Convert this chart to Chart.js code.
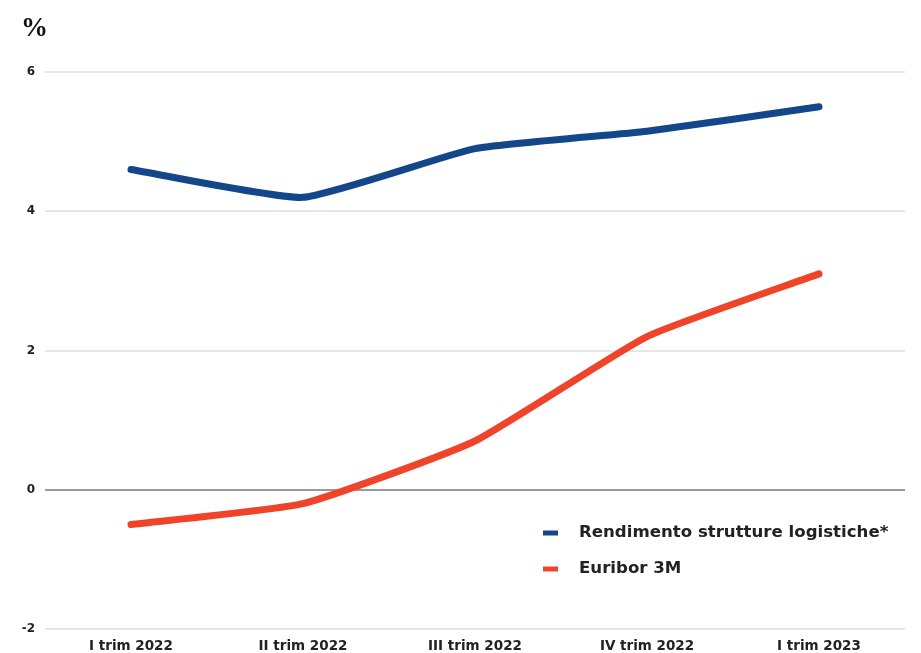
<!DOCTYPE html>
<html>
<head>
<meta charset="utf-8">
<script src="https://cdn.jsdelivr.net/npm/chart.js@4"></script>
<style>
    body { margin: 0; background: #fff; }
    #wrap { position: relative; width: 921px; height: 653px; }
    #unit { position: absolute; left: 21px; top: 12px; font: bold 27px "Liberation Serif", serif; color: #111; }
</style>
</head>
<body>
<div id="wrap">
    <canvas id="chart" width="921" height="653"></canvas>
    <div id="unit">%</div>
</div>
<script>
const labels = ['I trim 2022', 'II trim 2022', 'III trim 2022', 'IV trim 2022', 'I trim 2023'];
const rendimento = [4.6, 4.2, 4.9, 5.15, 5.5];
const euribor = [-0.5, -0.2, 0.7, 2.2, 3.1];
const yTicks = [-2, 0, 2, 4, 6];

const FONT = '"DejaVu Sans", sans-serif';

// legenda disegnata dentro l'area del grafico, in basso a destra
const insideLegend = {
    id: 'insideLegend',
    afterDraw(chart) {
        const ctx = chart.ctx;
        ctx.save();
        ctx.font = 'bold 16.6px ' + FONT;
        ctx.textBaseline = 'middle';
        chart.data.datasets.forEach((ds, i) => {
            const y = 533 + i * 36;
            ctx.strokeStyle = ds.borderColor;
            ctx.lineWidth = 5;
            ctx.beginPath();
            ctx.moveTo(543, y);
            ctx.lineTo(558, y);
            ctx.stroke();
            ctx.fillStyle = '#222';
            ctx.fillText(ds.label, 579, y);
        });
        ctx.restore();
    }
};

const ctx = document.getElementById('chart').getContext('2d');
new Chart(ctx, {
    type: 'line',
    data: {
        labels: labels,
        datasets: [
            {
                label: 'Rendimento strutture logistiche*',
                data: rendimento,
                borderColor: '#14468a',
                borderWidth: 7,
                pointRadius: 0,
                tension: 0.15,
                borderCapStyle: 'round'
            },
            {
                label: 'Euribor 3M',
                data: euribor,
                borderColor: '#f0442a',
                borderWidth: 7,
                pointRadius: 0,
                tension: 0.15,
                borderCapStyle: 'round'
            }
        ]
    },
    options: {
        responsive: false,
        animation: false,
        layout: { padding: { top: 72, right: 16, left: 0, bottom: 0 } },
        plugins: {
            legend: { display: false },
            tooltip: { enabled: false }
        },
        scales: {
            x: {
                offset: true,
                grid: { display: false, drawTicks: false },
                border: { display: false },
                ticks: {
                    padding: 9,
                    color: '#222',
                    font: { family: FONT, size: 13.5, weight: 'bold' }
                },
                afterFit(axis) { axis.height = 24; }
            },
            y: {
                min: -2,
                max: 6,
                afterBuildTicks(axis) { axis.ticks = yTicks.map(v => ({ value: v })); },
                grid: {
                    drawTicks: false,
                    lineWidth: 2,
                    color: ctx => ctx.tick && ctx.tick.value === 0 ? '#9a9a9a' : '#e6e6e6'
                },
                border: { display: false },
                ticks: {
                    padding: 10,
                    color: '#222',
                    font: { family: FONT, size: 12, weight: 'bold' }
                },
                afterFit(axis) { axis.width = 45; }
            }
        }
    },
    plugins: [insideLegend]
});
</script>
</body>
</html>
